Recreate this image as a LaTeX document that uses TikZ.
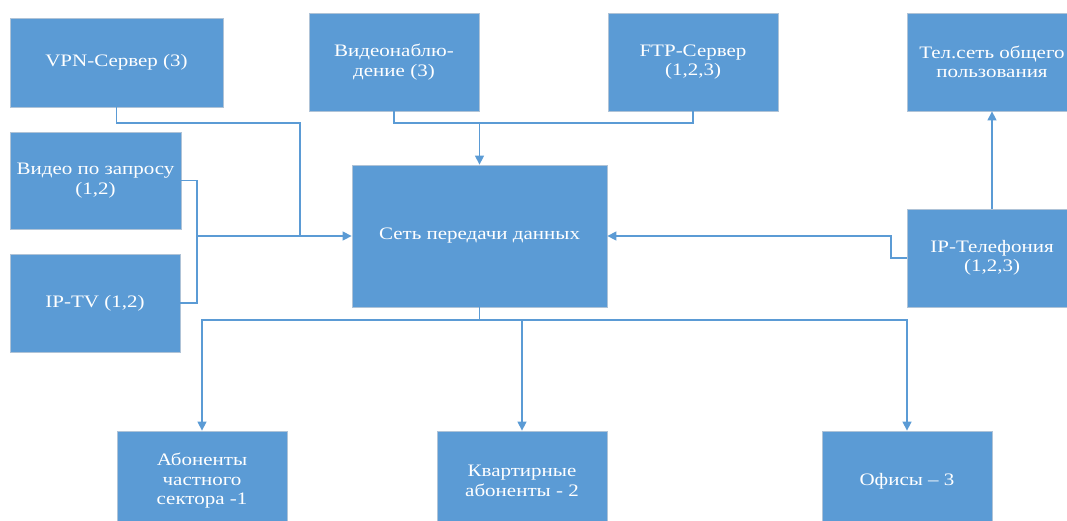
\documentclass[tikz,border=0pt]{standalone}
\usepackage{fontspec}
\setmainfont{Liberation Serif}[FakeStretch=1.2]
\usetikzlibrary{arrows.meta}
\definecolor{boxblue}{RGB}{91,155,213}
\definecolor{boxedge}{RGB}{175,195,215}
\definecolor{linkblue}{RGB}{91,155,213}
\tikzset{
  blk/.style={rectangle, fill=boxblue, draw=boxedge, line width=0.8pt, text=white,
    align=center, inner sep=2pt, font=\fontsize{17.5}{19.5}\selectfont},
  link/.style={draw=linkblue, line width=1.4pt},
  arr/.style={link, -{Triangle[length=9pt,width=9pt]}}
}
\begin{document}
\begin{tikzpicture}[x=1pt,y=-1pt]
\useasboundingbox (0,0) rectangle (1067,520);
\clip (0,0) rectangle (1067,520);
\node[blk, minimum width=213pt, minimum height=89pt] (vpn) at (116.5,62.5) {VPN-Сервер (3)};
\node[blk, minimum width=171pt, minimum height=97pt] (vod) at (95.5,180.5) {Видео по запросу\\(1,2)};
\node[blk, minimum width=170pt, minimum height=98pt] (iptv) at (95,303) {IP-TV (1,2)};
\node[blk, minimum width=170pt, minimum height=98pt] (video) at (394,62) {Видеонаблю-\\дение (3)};
\node[blk, minimum width=170pt, minimum height=98pt] (ftp) at (693,62) {FTP-Сервер\\(1,2,3)};
\node[blk, minimum width=170pt, minimum height=98pt] (tel) at (992,62) {Тел.сеть общего\\пользования};
\node[blk, minimum width=170pt, minimum height=98pt] (iptel) at (992,258) {IP-Телефония\\(1,2,3)};
\node[blk, minimum width=255pt, minimum height=142pt] (net) at (479.5,236) {Сеть передачи данных};
\node[blk, minimum width=170pt, minimum height=100pt] (ab1) at (202,481) {Абоненты\\частного\\сектора -1};
\node[blk, minimum width=170pt, minimum height=100pt] (ab2) at (522,481) {Квартирные\\абоненты - 2};
\node[blk, minimum width=170pt, minimum height=100pt] (off) at (907,481) {Офисы – 3};

\coordinate (jl) at (300,236);
\coordinate (jv) at (197,236);
\coordinate (jt) at (479.5,123);
\coordinate (jr) at (891,236);
\coordinate (jb) at (479.5,320);

\draw[link] (vpn.south) |- (300,123) -- (jl);
\draw[link] (vod.east) -| (jv) |- (iptv.east);
\draw[arr] (jv) -- (net.west);
\draw[link] (video.south) |- (jt) -| (ftp.south);
\draw[arr] (jt) -- (net.north);
\draw[arr] (iptel.west) -| (jr) -- (net.east);
\draw[arr] (iptel.north) -- (tel.south);
\draw[link] (net.south) -- (jb);
\draw[arr] (jb) -| (ab1.north);
\draw[arr] (jb) -| (ab2.north);
\draw[arr] (jb) -| (off.north);
\end{tikzpicture}
\end{document}
